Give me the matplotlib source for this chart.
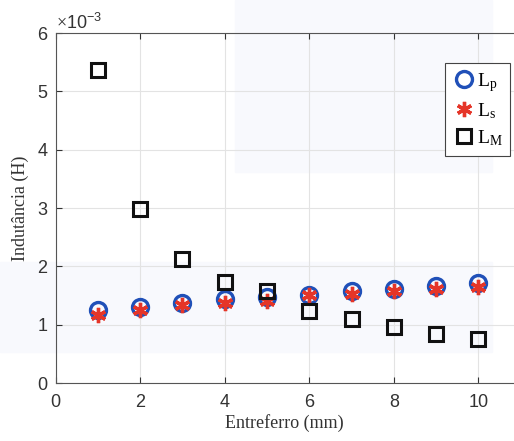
import numpy as np
import matplotlib.pyplot as plt
from matplotlib.ticker import ScalarFormatter
from matplotlib.patches import Rectangle

gap = [1, 2, 3, 4, 5, 6, 7, 8, 9, 10]
Lp = np.array([1.25, 1.30, 1.38, 1.44, 1.47, 1.51, 1.57, 1.62, 1.66, 1.71]) * 1e-3
Ls = np.array([1.17, 1.26, 1.33, 1.37, 1.41, 1.51, 1.53, 1.57, 1.61, 1.65]) * 1e-3
LM = np.array([5.37, 2.98, 2.13, 1.73, 1.58, 1.24, 1.09, 0.96, 0.84, 0.76]) * 1e-3

plt.rcParams['font.family'] = ['Liberation Sans', 'DejaVu Sans']
plt.rcParams['mathtext.fontset'] = 'custom'
plt.rcParams['mathtext.rm'] = 'Liberation Serif'
plt.rcParams['mathtext.it'] = 'Liberation Serif:italic'

W, H = 514, 441
fig = plt.figure(figsize=(W / 100, H / 100), dpi=100)

# faint scan tint in the background
fig.patches.append(Rectangle((235 / W, 1 - 172 / H), 257 / W, 172 / H,
                             transform=fig.transFigure, color='#f8f9fd', zorder=-5))
fig.patches.append(Rectangle((0, 1 - 352 / H), 492 / W, 90 / H,
                             transform=fig.transFigure, color='#f8f9fd', zorder=-5))

x0, y0 = 55.5, 383
xscale = 42.3
ax = fig.add_axes([x0 / W, 1 - y0 / H, (W - x0) / W, 350 / H])
ax.patch.set_alpha(0)
ax.set_xlim(0, (W - x0) / xscale)
ax.set_ylim(0, 6e-3)

ax.plot(gap, Lp, 'o', ms=11.5, mfc='none', mec='#2050b8', mew=2.4, label=r'L$_\mathrm{p}$')
ax.plot(gap, Ls, marker=(6, 2, 0), ls='none', ms=11, mec='#e53528', mew=2.4, label=r'L$_\mathrm{s}$')
ax.plot(gap, LM, 's', ms=10, mfc='none', mec='#111111', mew=2.2, label=r'L$_\mathrm{M}$')

ax.set_xticks([0, 2, 4, 6, 8, 10])
ax.set_yticks(np.arange(0, 6.1, 1) * 1e-3)
fmt = ScalarFormatter(useMathText=True)
fmt.set_powerlimits((-2, 2))
ax.yaxis.set_major_formatter(fmt)
ax.yaxis.get_offset_text().set_fontsize(13)
ax.yaxis.get_offset_text().set_color('#333333')

ax.grid(True, color='#e3e3e3', lw=0.8)
ax.set_axisbelow(True)
ax.tick_params(direction='in', length=4, labelsize=13, colors='#333333', top=True)
ax.tick_params(axis='x', pad=8)
ax.tick_params(axis='y', pad=5)
for s in ['left', 'bottom', 'top']:
    ax.spines[s].set_color('#555555')
    ax.spines[s].set_linewidth(0.8)
ax.spines['right'].set_visible(False)

ax.set_xlabel('Entreferro (mm)', family='Liberation Serif', fontsize=13, color='#333333', labelpad=2)
ax.set_ylabel('Indutância (H)', family='Liberation Serif', fontsize=13, color='#333333', labelpad=6)

leg = ax.legend(loc='upper right', bbox_to_anchor=((510 - x0) / (W - x0), 1 - (63 - 33) / 350),
                prop={'family': 'Liberation Serif', 'size': 14}, frameon=True, fancybox=False,
                handletextpad=0.1, handlelength=1.1, borderpad=0.4, labelspacing=0.38,
                borderaxespad=0, framealpha=1)
leg.get_frame().set_edgecolor('#444444')
leg.get_frame().set_linewidth(0.8)

fig.savefig('out.png', dpi=100)
